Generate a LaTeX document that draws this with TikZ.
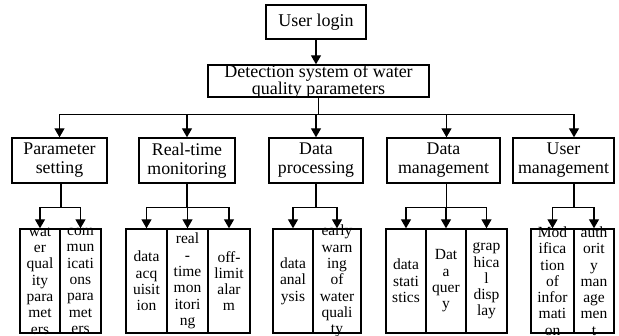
\documentclass[tikz,border=0pt]{standalone}
\usepackage{fontspec}
\setmainfont{Liberation Serif}
\usetikzlibrary{arrows.meta}

\begin{document}
\begin{tikzpicture}[x=1pt,y=-1pt,
		wire/.style={line width=1.4pt},
		arr/.style={line width=1.4pt,-{Triangle[width=10pt,length=9pt]}},
		box/.style={draw,line width=1.4pt,inner sep=0pt,align=center,font=\fontsize{17.8}{19}\selectfont},
		col/.style={draw,line width=1.4pt,inner sep=0pt,minimum height=104pt},
		coltxt/.style={inner sep=0pt,align=center,font=\fontsize{15.5}{16.3}\selectfont}]
		\useasboundingbox (0,0) rectangle (619,336);
		% top
		\node[box,minimum width=100pt,minimum height=34pt,font=\fontsize{18}{17}\selectfont] (login) at (316,22) {User login};
		\node[box,minimum width=221pt,minimum height=32pt] (detect) at (318.5,81) {};
		\node[inner sep=0pt,align=center,font=\fontsize{18}{17}\selectfont] (detecttxt) at (318.5,82) {Detection system of water\\quality parameters};
		\draw [arr] (login) -- (login |- detect.north);
		% modules
		\node[box,minimum width=95pt,minimum height=45pt] (param) at (59.5,160.5) {Parameter\\setting};
		\node[box,minimum width=96pt,minimum height=45pt] (realtime) at (187,160.5) {Real-time\\monitoring};
		\node[box,minimum width=94pt,minimum height=45pt] (proc) at (316,160.5) {Data\\processing};
		\node[box,minimum width=113pt,minimum height=45pt] (dmgmt) at (443.5,160.5) {Data\\management};
		\node[box,minimum width=101pt,minimum height=45pt] (umgmt) at (563.5,160.5) {User\\management};
		\draw [wire] (detect.south) -- ++(0,17) coordinate (bus);
		\draw [arr] (bus) -| (param.north);
		\draw [arr] (bus) -| (realtime.north);
		\draw [arr] (bus) -| (proc.north);
		\draw [arr] (bus) -| ([xshift=3pt]dmgmt.north);
		\draw [arr] (bus) -| ([xshift=10.5pt]umgmt.north);
		% columns
		\node[col,minimum width=40pt] (ps1) at (40,281) {};
		\node[col,minimum width=41pt] (ps2) at (80.5,281) {};
		\node[col,minimum width=41pt] (rt1) at (146.5,281) {};
		\node[col,minimum width=41pt] (rt2) at (187.5,281) {};
		\node[col,minimum width=42pt] (rt3) at (229,281) {};
		\node[col,minimum width=40pt] (dp1) at (293,281) {};
		\node[col,minimum width=48pt] (dp2) at (337,281) {};
		\node[col,minimum width=40pt] (dm1) at (406,281) {};
		\node[col,minimum width=40pt] (dm2) at (446,281) {};
		\node[col,minimum width=41pt] (dm3) at (486.5,281) {};
		\node[col,minimum width=43pt] (um1) at (552.5,281) {};
		\node[col,minimum width=40pt] (um2) at (594,281) {};
		\node[coltxt] (ps1txt) at (ps1) {wat\\er\\qual\\ity\\para\\met\\ers};
		\node[coltxt] (ps2txt) at (ps2) {com\\mun\\icati\\ons\\para\\met\\ers};
		\node[coltxt] (rt1txt) at (rt1) {data\\acq\\uisit\\ion};
		\node[coltxt] (rt2txt) at (rt2) {real\\-\\time\\mon\\itori\\ng};
		\node[coltxt] (rt3txt) at (rt3) {off-\\limit\\alar\\m};
		\node[coltxt] (dp1txt) at (dp1) {data\\anal\\ysis};
		\node[coltxt] (dp2txt) at (dp2) {early\\warn\\ing\\of\\water\\quali\\ty};
		\node[coltxt] (dm1txt) at (dm1) {data\\stati\\stics};
		\node[coltxt] (dm2txt) at (dm2) {Dat\\a\\quer\\y};
		\node[coltxt] (dm3txt) at (dm3) {grap\\hica\\l\\disp\\lay};
		\node[coltxt] (um1txt) at (um1) {Mod\\ifica\\tion\\of\\infor\\mati\\on};
		\node[coltxt] (um2txt) at (um2) {auth\\orit\\y\\man\\age\\men\\t};
		% branches
		\draw [wire] ([xshift=1.5pt]param.south) -- ++(0,24) coordinate (psb);
		\draw [arr] (psb) -| (ps1.north);
		\draw [arr] (psb) -| (ps2.north);
		\draw [wire] (realtime.south) -- ++(0,24) coordinate (rtb);
		\draw [arr] (rtb) -| (rt1.north);
		\draw [arr] (rtb) -| (rt2.north);
		\draw [arr] (rtb) -| (rt3.north);
		\draw [wire] (proc.south) -- ++(0,24) coordinate (dpb);
		\draw [arr] (dpb) -| (dp1.north);
		\draw [arr] (dpb) -| (dp2.north);
		\draw [wire] ([xshift=3pt]dmgmt.south) -- ++(0,24) coordinate (dmb);
		\draw [arr] (dmb) -| (dm1.north);
		\draw [arr] (dmb) -| (dm2.north);
		\draw [arr] (dmb) -| (dm3.north);
		\draw [wire] ([xshift=10.5pt]umgmt.south) -- ++(0,24) coordinate (umb);
		\draw [arr] (umb) -| (um1.north);
		\draw [arr] (umb) -| (um2.north);
	\end{tikzpicture}
\end{document}
